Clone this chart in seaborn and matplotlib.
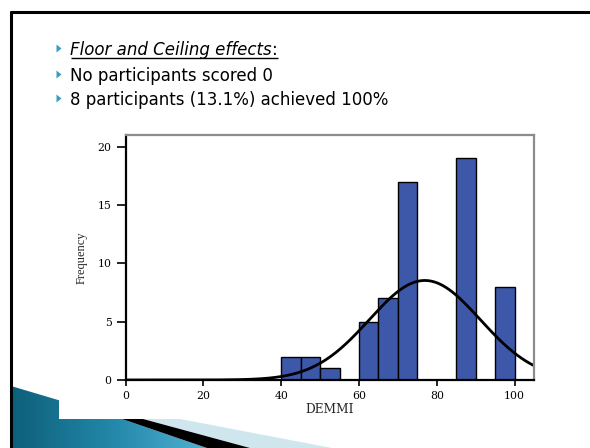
import numpy as np
import pandas as pd
import matplotlib
matplotlib.use("Agg")
import matplotlib.pyplot as plt
from matplotlib.patches import Polygon, Rectangle
from matplotlib.lines import Line2D
import seaborn as sns

# DEMMI score distribution: bins of width 5, participant count per bin
bin_left = [40, 45, 50, 55, 60, 65, 70, 75, 80, 85, 90, 95]
counts = [2, 2, 1, 0, 5, 7, 17, 0, 0, 19, 0, 8]
bin_width = 5

x_ticks = [0, 20, 40, 60, 80, 100]
y_ticks = [0, 5, 10, 15, 20]
x_label = "DEMMI"
y_label = "Frequency"

heading = "Floor and Ceiling effects"
bullet_lines = ["No participants scored 0",
                "8 participants (13.1%) achieved 100%"]

sns.set_style("white")
plt.rcParams["font.family"] = ["DejaVu Sans"]

W, H = 590, 448
fig = plt.figure(figsize=(W / 100, H / 100), dpi=100)
fig.patch.set_facecolor("white")

# ---- slide background layer, in pixel coordinates ----
bg = fig.add_axes([0, 0, 1, 1], zorder=0)
bg.set_xlim(0, W)
bg.set_ylim(H, 0)
bg.axis("off")

# teal gradient wedge in the lower-left corner
teal_poly = Polygon([(11, 386), (122, 419), (207, 448), (11, 448)],
                    closed=True, facecolor="none", edgecolor="none")
bg.add_patch(teal_poly)
grad = np.linspace(0, 1, 256)[None, :]
teal_cmap = matplotlib.colors.LinearSegmentedColormap.from_list(
    "teal", ["#0d5f79", "#2388aa", "#55b4d6"])
img = bg.imshow(np.repeat(grad, 4, axis=0), cmap=teal_cmap, aspect="auto",
                extent=(11, 215, 448, 380), zorder=1)
img.set_clip_path(teal_poly)

# light patterned band and black stripe
bg.add_patch(Polygon([(143, 419), (180, 419), (332, 448), (250, 448)],
                     closed=True, facecolor="#cfe6ef", edgecolor="none", zorder=2))
bg.add_patch(Polygon([(122, 419), (143, 419), (250, 448), (207, 448)],
                     closed=True, facecolor="black", edgecolor="none", zorder=3))

# white picture area holding the chart
bg.add_patch(Rectangle((59, 112), 530, 307, facecolor="white",
                       edgecolor="none", zorder=4))

# slide frame (top and left rules)
bg.add_line(Line2D([10, W], [12.5, 12.5], color="black", lw=2.2, zorder=6,
                   solid_capstyle="butt"))
bg.add_line(Line2D([11, 11], [11.5, H], color="black", lw=2.2, zorder=6,
                   solid_capstyle="butt"))

# bullet list
baselines = [55, 81, 105]
text_x = 70.5
for yb in baselines:
    bg.add_patch(Polygon([(56.5, yb - 10.5), (56.5, yb - 2.5), (61.5, yb - 6.5)],
                         closed=True, facecolor="#3a9cc0", edgecolor="none",
                         zorder=6))

t_head = bg.text(text_x, baselines[0], heading, fontsize=12, style="italic",
                 va="baseline", ha="left", color="black", zorder=7)
for yb, line in zip(baselines[1:], bullet_lines):
    bg.text(text_x, yb, line, fontsize=12, va="baseline", ha="left",
            color="black", zorder=7)

fig.canvas.draw()
renderer = fig.canvas.get_renderer()
inv = bg.transData.inverted()
ext = t_head.get_window_extent(renderer)
head_end = inv.transform((ext.x1, ext.y0))[0]
t_colon = bg.text(head_end, baselines[0], ":", fontsize=12, va="baseline",
                  ha="left", color="black", zorder=7)
fig.canvas.draw()
ext2 = t_colon.get_window_extent(renderer)
colon_end = inv.transform((ext2.x1, ext2.y0))[0]
bg.add_line(Line2D([text_x, colon_end], [58.3, 58.3], color="black",
                   lw=1.0, zorder=7, solid_capstyle="butt"))

# ---- histogram with fitted normal curve ----
x0_px, x1_px = 125.6, 534.0
y0_px, y1_px = 380.0, 135.0
ax = fig.add_axes([x0_px / W, 1 - y0_px / H, (x1_px - x0_px) / W,
                   (y0_px - y1_px) / H], zorder=2)
ax.set_facecolor("none")

edges = list(bin_left) + [bin_left[-1] + bin_width]
mids = np.array(bin_left) + bin_width / 2
df = pd.DataFrame({"score": mids, "n": counts})
sns.histplot(data=df, x="score", weights="n", bins=edges, ax=ax,
             color="#3d58a9", edgecolor="black", linewidth=1.0, alpha=1.0)

# normal curve scaled to counts
n_total = np.sum(counts)
w = np.array(counts, dtype=float)
mean = np.sum(w * mids) / n_total
sd = np.sqrt(np.sum(w * (mids - mean) ** 2) / (n_total - 1))
xs = np.linspace(0, 105, 500)
ys = n_total * bin_width * np.exp(-0.5 * ((xs - mean) / sd) ** 2) / (sd * np.sqrt(2 * np.pi))
sns.lineplot(x=xs, y=ys, ax=ax, color="black", linewidth=2.0)

ax.set_xlim(0, 105)
ax.set_ylim(0, 21)
ax.set_xticks(x_ticks)
ax.set_yticks(y_ticks)

serif = ["DejaVu Serif"]
ax.set_xticklabels([str(v) for v in x_ticks], family=serif, fontsize=7.8)
ax.set_yticklabels([str(v) for v in y_ticks], family=serif, fontsize=7.8)
ax.tick_params(axis="x", direction="out", bottom=True, length=4.5, width=1.2,
               pad=3.2, colors="black")
ax.tick_params(axis="y", direction="out", left=True, length=6.7, width=1.2,
               pad=3.4, colors="black")
ax.set_xlabel(x_label, family=serif, fontsize=8.8, labelpad=1.5)
ax.set_ylabel(y_label, family=["Liberation Serif", "DejaVu Serif"],
              fontsize=9, labelpad=7)

for side in ["left", "bottom"]:
    ax.spines[side].set_color("black")
    ax.spines[side].set_linewidth(1.6)
for side in ["top", "right"]:
    ax.spines[side].set_color("#8c8c8c")
    ax.spines[side].set_linewidth(1.6)
    ax.spines[side].set_visible(True)

fig.savefig("out.png", dpi=100, facecolor="white")
